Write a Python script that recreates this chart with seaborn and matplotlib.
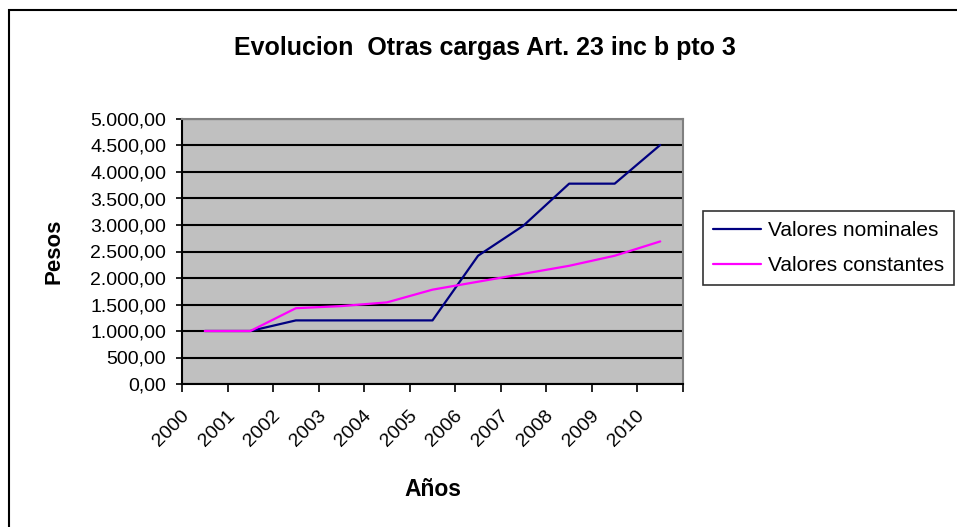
import pandas as pd
import matplotlib.pyplot as plt
import matplotlib.ticker as mticker
from matplotlib.patches import Rectangle
import seaborn as sns

# Data
years = [2000, 2001, 2002, 2003, 2004, 2005, 2006, 2007, 2008, 2009, 2010]
nominales = [1000, 1000, 1200, 1200, 1200, 1200, 2420, 2990, 3780, 3780, 4510]
constantes = [1000, 1000, 1430, 1470, 1540, 1780, 1930, 2080, 2230, 2420, 2690]
y_ticks = list(range(0, 5001, 500))

sns.set_style("white")
plt.rcParams["font.family"] = ["Liberation Sans", "DejaVu Sans"]
# Excel look: plain black text
plt.rcParams.update({"text.color": "black", "axes.labelcolor": "black",
                     "xtick.color": "black", "ytick.color": "black"})

df = pd.DataFrame({
    "pos": list(range(len(years))) * 2,
    "valor": nominales + constantes,
    "serie": ["Valores nominales"] * len(years) + ["Valores constantes"] * len(years),
})

fig = plt.figure(figsize=(9.57, 5.27), dpi=100)
fig.patch.set_facecolor("white")
# outer chart border (right/bottom edges fall outside the picture)
fig.patches.append(Rectangle((9 / 957, -0.05), 1.1, 1 - 10 / 527 + 0.05,
                             transform=fig.transFigure, fill=False,
                             edgecolor="black", linewidth=1.5))

ax = fig.add_axes([182 / 957, 1 - 384 / 527, (683 - 182) / 957, (384 - 119) / 527])
ax.set_facecolor("#C0C0C0")

sns.lineplot(data=df, x="pos", y="valor", hue="serie",
             palette={"Valores nominales": "#000080", "Valores constantes": "#FF00FF"},
             linewidth=1.6, ax=ax, legend=False)

ax.set_xlim(-0.5, len(years) - 0.5)
ax.set_ylim(0, 5000)
ax.set_yticks(y_ticks)
ax.yaxis.set_major_formatter(mticker.FuncFormatter(
    lambda v, p: f"{v:,.2f}".replace(",", "X").replace(".", ",").replace("X", ".")))
ax.grid(axis="y", color="black", linewidth=1.5)
ax.set_axisbelow(True)

# category boundaries as ticks, labels hung just right of each boundary
ax.set_xticks([i - 0.5 for i in range(len(years) + 1)])
ax.set_xticklabels([])
ax.set_xticks([i - 0.4 for i in range(len(years))], minor=True)
ax.set_xticklabels([str(y) for y in years], minor=True, rotation=45,
                   ha="right", va="center", rotation_mode="anchor", fontsize=14)
ax.tick_params(axis="x", which="minor", length=0, pad=21)
ax.tick_params(axis="x", which="major", length=6, width=1.2, direction="out", color="black")
ax.tick_params(axis="y", length=9, width=1.2, direction="inout", color="black", labelsize=14, pad=7)
ax.tick_params(left=True, bottom=True)

for side in ["top", "right"]:
    ax.spines[side].set_color("#808080")
    ax.spines[side].set_linewidth(1.5)
for side in ["left", "bottom"]:
    ax.spines[side].set_color("black")
    ax.spines[side].set_linewidth(1.5)

ax.set_xlabel("Años", fontsize=16.5, fontweight="bold")
ax.set_ylabel("Pesos", fontsize=16, fontweight="bold")
ax.xaxis.set_label_coords(0.5, -0.355)
ax.yaxis.set_label_coords(-0.234, 0.5)

fig.text(485 / 957, 1 - 48 / 527, "Evolucion  Otras cargas Art. 23 inc b pto 3",
         ha="center", va="center", fontsize=18, fontweight="bold")

handles = [plt.Line2D([], [], color="#000080", linewidth=1.6),
           plt.Line2D([], [], color="#FF00FF", linewidth=1.6)]
leg = fig.legend(handles, ["Valores nominales", "Valores constantes"],
                 loc="upper left", bbox_to_anchor=(703 / 957, 1 - 211 / 527),
                 frameon=True, fancybox=False, fontsize=15, handlelength=2.3,
                 borderpad=0.5, labelspacing=0.75, handletextpad=0.3,
                 borderaxespad=0)
leg.get_frame().set_edgecolor("black")
leg.get_frame().set_linewidth(1.2)

fig.savefig("out.png", dpi=100)
